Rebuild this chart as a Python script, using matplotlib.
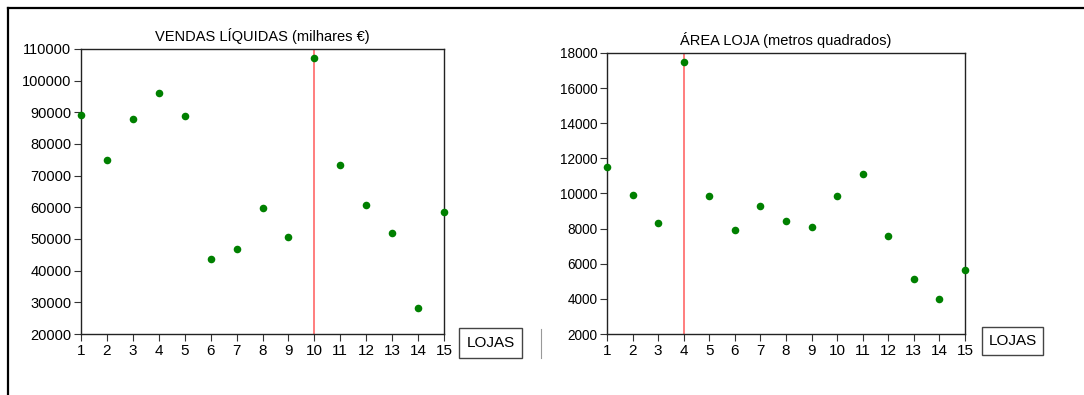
import matplotlib
matplotlib.use("Agg")
import matplotlib.pyplot as plt
from matplotlib.lines import Line2D

plt.rcParams["font.family"] = ["Liberation Sans", "DejaVu Sans"]

# Lojas 1..15
lojas = list(range(1, 16))
vendas = [89000, 75000, 87900, 96000, 88800, 43800, 46700, 59700,
          50600, 107100, 73300, 60600, 52000, 28200, 58600]
area = [11500, 9930, 8310, 17460, 9840, 7930, 9280, 8420,
        8100, 9880, 11090, 7590, 5160, 3970, 5660]

vendas_ticks = list(range(20000, 110001, 10000))
area_ticks = list(range(2000, 18001, 2000))

panels = [
    ("VENDAS LÍQUIDAS (milhares €)", vendas, vendas_ticks, 10, 10.5),
    ("ÁREA LOJA (metros quadrados)", area, area_ticks, 4, 9.8),
]
# axes rectangles in figure pixels: left, top, right, bottom
boxes = [(81, 49, 444, 334), (607, 53, 965, 334)]
label_boxes = [(459, 328, 522, 358), (982, 327, 1043, 355)]

W, H = 1084, 395
fig = plt.figure(figsize=(W / 100, H / 100), dpi=100)

for (title, values, yticks, mark, ysize), (l, t, r, b), lb in zip(panels, boxes, label_boxes):
    ax = fig.add_axes([l / W, 1 - b / H, (r - l) / W, (b - t) / H])
    ax.axvline(mark, color="#ff5a5a", lw=1.1, zorder=1)
    ax.scatter(lojas, values, s=30, color="#008000", zorder=3, clip_on=False,
               linewidths=0)
    ax.set_xlim(1, 15)
    ax.set_ylim(yticks[0], yticks[-1])
    ax.set_xticks(lojas)
    ax.set_yticks(yticks)
    ax.tick_params(axis="both", direction="out", length=5, width=0.8,
                   color="#333333", pad=2)
    ax.tick_params(axis="y", labelsize=ysize)
    ax.tick_params(axis="x", labelsize=11)
    for sp in ax.spines.values():
        sp.set_linewidth(1.0)
        sp.set_color("#222222")
    ax.set_title(title, fontsize=10.5, pad=6)

    x0, y0, x1, y1 = lb
    fig.text((x0 + x1) / 2 / W, 1 - (y0 + y1) / 2 / H, "LOJAS",
             ha="center", va="center", fontsize=11)
    fig.add_artist(plt.Rectangle((x0 / W, 1 - y1 / H), (x1 - x0) / W,
                                 (y1 - y0) / H, transform=fig.transFigure,
                                 fill=False, ec="#444444", lw=1.0))

# outer frame: top and left edges
fig.add_artist(Line2D([7.5 / W, 1], [1 - 7.5 / H, 1 - 7.5 / H],
                      transform=fig.transFigure, color="black", lw=1.6))
fig.add_artist(Line2D([7.5 / W, 7.5 / W], [0, 1 - 7.5 / H],
                      transform=fig.transFigure, color="black", lw=1.6))
fig.add_artist(Line2D([540.5 / W, 540.5 / W], [1 - 358 / H, 1 - 329 / H],
                      transform=fig.transFigure, color="#999999", lw=0.8))

fig.savefig("out.png", dpi=100)
